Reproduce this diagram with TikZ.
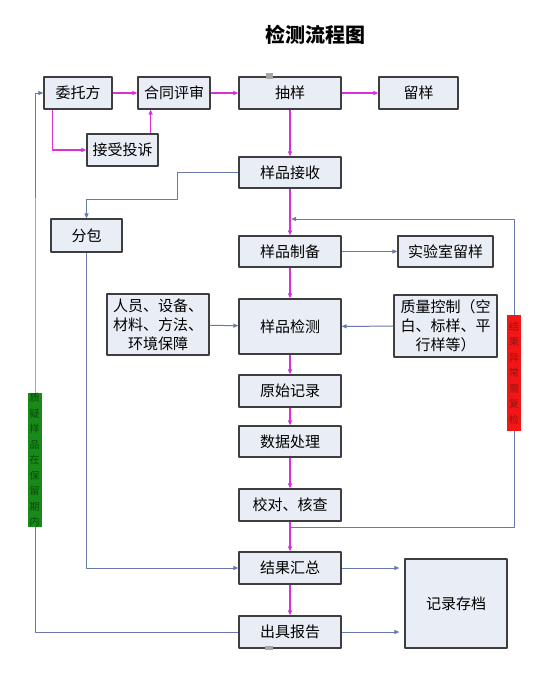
\documentclass[tikz,border=0pt]{standalone}
\usepackage{fontspec}
\setmainfont{Noto Sans CJK SC}
\usetikzlibrary{arrows.meta}
\definecolor{kuang}{RGB}{233,237,245}
\definecolor{bian}{RGB}{62,62,62}
\definecolor{zihong}{RGB}{218,48,218}
\definecolor{lanhui}{RGB}{104,122,170}
\definecolor{hong}{RGB}{242,22,22}
\definecolor{hongzi}{RGB}{150,20,20}
\definecolor{lv}{RGB}{24,138,24}
\definecolor{lvzi}{RGB}{12,72,12}
\begin{document}
\begin{tikzpicture}[x=1pt, y=-1pt, line join=round, >={Triangle[length=5pt,width=4pt]},
		kuangzi/.style={draw=bian, line width=1.2pt, fill=kuang, inner sep=0pt, align=center, font=\fontsize{15}{19}\selectfont},
		tiao/.style={inner sep=0pt, minimum width=14pt, align=center, font=\fontsize{10}{15.5}\selectfont},
		mg/.style={draw=zihong, line width=1.4pt, ->},
		bl/.style={draw=lanhui, line width=1pt, ->}]
	\useasboundingbox (0,0) rectangle (543,675);
	\node[font=\fontsize{20}{24}\selectfont\bfseries] (biaoti) at (315,35) {检测流程图};
	\node[kuangzi, minimum width=68pt, minimum height=32pt] (weituo) at (78,93) {委托方};
	\node[kuangzi, minimum width=72pt, minimum height=32pt] (hetong) at (174,93) {合同评审};
	\node[kuangzi, minimum width=102pt, minimum height=32pt] (chouyang) at (290,93) {抽样};
	\node[kuangzi, minimum width=79pt, minimum height=32pt] (liuyang) at (418.5,93) {留样};
	\node[kuangzi, minimum width=71pt, minimum height=32pt] (tousu) at (122.5,150) {接受投诉};
	\node[kuangzi, minimum width=102pt, minimum height=31pt] (jieshou) at (290,172.5) {样品接收};
	\node[kuangzi, minimum width=71pt, minimum height=33pt] (fenbao) at (86.5,235.5) {分包};
	\node[kuangzi, minimum width=102pt, minimum height=31pt] (zhibei) at (290,251.5) {样品制备};
	\node[kuangzi, minimum width=95pt, minimum height=31pt] (shiyan) at (445.5,251.5) {实验室留样};
	\node[kuangzi, minimum width=102pt, minimum height=61pt] (renyuan) at (158,324.5) {人员、设备、\\材料、方法、\\环境保障};
	\node[kuangzi, minimum width=102pt, minimum height=55pt] (jiance) at (290,326.5) {样品检测};
	\node[kuangzi, minimum width=103pt, minimum height=62pt] (zhikong) at (445.5,326) {质量控制（空\\白、标样、平\\行样等）};
	\node[kuangzi, minimum width=102pt, minimum height=32pt] (yuanshi) at (290,391) {原始记录};
	\node[kuangzi, minimum width=102pt, minimum height=31pt] (shuju) at (290,441.5) {数据处理};
	\node[kuangzi, minimum width=102pt, minimum height=32pt] (jiaodui) at (290,505) {校对、核查};
	\node[kuangzi, minimum width=102pt, minimum height=32pt] (huizong) at (290,568) {结果汇总};
	\node[kuangzi, minimum width=102pt, minimum height=32pt] (baogao) at (290,632) {出具报告};
	\node[kuangzi, minimum width=102pt, minimum height=89pt] (cundang) at (456,603.5) {记录存档};
	\coordinate (k1) at (177,199);
	\coordinate (r1) at (290,527);
	\coordinate (r2) at (514,219);
	\coordinate (r3) at (291,219);
	\coordinate (l1) at (35,300);
	\draw[mg] (weituo) -- (hetong);
	\draw[mg] (hetong) -- (chouyang);
	\draw[mg] (chouyang) -- (liuyang);
	\draw[mg] (chouyang) -- (jieshou);
	\draw[mg] ([xshift=9pt]weituo.south west) |- (tousu.west);
	\draw[mg] ([xshift=-8pt]tousu.north east) -- ([xshift=-8pt]tousu.north east |- hetong.south);
	\draw[mg] (jieshou) -- (zhibei);
	\draw[mg] (zhibei) -- (jiance);
	\draw[mg] (jiance) -- (yuanshi);
	\draw[mg] (yuanshi) -- (shuju);
	\draw[mg] (shuju) -- (jiaodui);
	\draw[mg] (jiaodui) -- (huizong);
	\draw[mg] (huizong) -- (baogao);
	\draw[bl] (jieshou.west) -| (k1) -| (fenbao.north);
	\draw[bl] (fenbao.south) |- (huizong.west);
	\draw[bl] (zhibei) -- (shiyan);
	\draw[bl] (renyuan) -- (jiance);
	\draw[bl] (zhikong) -- (jiance);
	\draw[bl] (huizong.east) -- ([xshift=-5pt]cundang.west |- huizong.east);
	\draw[bl] (baogao.east) -- ([xshift=-5pt]cundang.west |- baogao.east);
	\draw[bl] (r1) -| (r2) -- (r3);
	\draw[bl] (baogao.west) -| (l1) |- (weituo.west);
	\node[tiao, fill=hong, text=hongzi, minimum height=116pt] (hongtiao) at (514,373) {结\\果\\异\\常\\需\\复\\检};
	\node[tiao, fill=lv, text=lvzi, minimum height=134pt] (lvtiao) at (34.5,460) {质\\疑\\样\\品\\在\\保\\留\\期\\内};
	\fill[gray!70] (266,73) rectangle (273,79);
	\fill[gray!70] (265,646) rectangle (273,650);
\end{tikzpicture}
\end{document}
